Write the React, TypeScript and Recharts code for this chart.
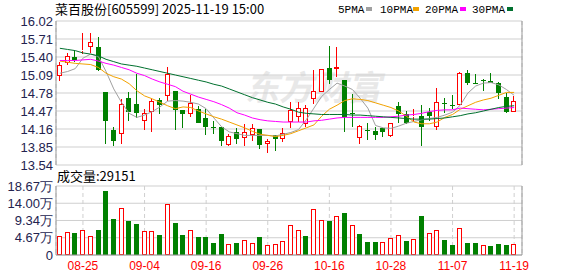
import React from 'react';
import { ComposedChart, Bar, Line, XAxis, YAxis, CartesianGrid } from 'recharts';

const dates = [
  '08-20', '08-21', '08-22', '08-25', '08-26', '08-27', '08-28', '08-29', '09-01', '09-02',
  '09-03', '09-04', '09-05', '09-08', '09-09', '09-10', '09-11', '09-12', '09-15', '09-16',
  '09-17', '09-18', '09-19', '09-22', '09-23', '09-24', '09-25', '09-26', '09-29', '09-30',
  '10-09', '10-10', '10-13', '10-14', '10-15', '10-16', '10-17', '10-20', '10-21', '10-22',
  '10-23', '10-24', '10-27', '10-28', '10-29', '10-30', '10-31', '11-03', '11-04', '11-05',
  '11-06', '11-07', '11-10', '11-11', '11-12', '11-13', '11-14', '11-17', '11-18', '11-19',
];
const opens = [
  15.08, 15.30, 15.40, 15.50, 15.57, 15.57, 14.80, 14.14, 14.08, 14.69,
  14.59, 14.30, 14.45, 14.66, 14.72, 14.82, 14.48, 14.41, 14.51, 14.35,
  14.19, 14.19, 13.88, 14.11, 14.01, 14.05, 14.16, 13.91, 14.05, 13.99,
  14.28, 14.36, 14.25, 14.68, 14.80, 15.21, 15.20, 15.00, 14.43, 14.01,
  14.15, 14.12, 14.18, 14.04, 14.55, 14.42, 14.37, 14.38, 14.46, 14.19,
  14.61, 14.57, 14.58, 15.12, 14.95, 15.01, 14.98, 14.96, 14.71, 14.46,
];
const highs = [
  15.32, 15.47, 15.51, 15.81, 15.81, 15.74, 14.80, 14.19, 14.67, 14.80,
  15.11, 14.50, 14.67, 14.69, 15.22, 14.82, 14.48, 14.74, 14.55, 14.51,
  14.29, 14.20, 14.07, 14.18, 14.24, 14.24, 14.16, 13.99, 14.06, 14.18,
  14.63, 14.63, 14.58, 15.18, 15.20, 15.59, 15.57, 15.00, 14.76, 14.23,
  14.26, 14.20, 14.18, 14.27, 14.63, 14.47, 14.51, 14.57, 14.53, 14.86,
  14.69, 14.74, 15.15, 15.17, 15.11, 15.02, 15.12, 14.97, 14.78, 14.72,
];
const lows = [
  14.98, 15.27, 15.31, 15.45, 15.47, 15.16, 13.91, 13.87, 13.91, 14.29,
  14.35, 14.15, 14.10, 14.41, 14.64, 14.15, 14.18, 14.36, 14.26, 14.05,
  14.08, 13.86, 13.87, 13.90, 13.87, 13.96, 13.82, 13.75, 13.78, 13.94,
  14.17, 14.28, 14.19, 14.59, 14.79, 14.94, 15.06, 14.10, 14.20, 13.91,
  13.97, 13.97, 14.02, 14.02, 14.26, 14.25, 14.30, 13.87, 14.29, 14.14,
  14.43, 14.51, 14.57, 14.92, 14.93, 14.81, 14.95, 14.68, 14.44, 14.46,
];
const closes = [
  15.26, 15.41, 15.34, 15.52, 15.66, 15.17, 14.29, 13.96, 14.59, 14.45,
  14.43, 14.44, 14.64, 14.58, 15.10, 14.48, 14.41, 14.60, 14.27, 14.20,
  14.17, 13.95, 14.04, 13.99, 14.11, 14.18, 13.89, 13.95, 13.98, 14.09,
  14.49, 14.53, 14.52, 14.81, 15.20, 15.01, 15.23, 14.36, 14.41, 14.22,
  14.14, 14.05, 14.11, 14.27, 14.42, 14.27, 14.39, 14.19, 14.39, 14.63,
  14.60, 14.56, 15.12, 14.96, 14.94, 14.98, 14.96, 14.78, 14.45, 14.64,
];
// 成交量，单位：万
const volumes = [
  5.05, 6.13, 5.95, 6.67, 5.05, 6.76, 17.32, 9.74, 12.63, 9.20,
  8.39, 6.40, 6.40, 5.41, 13.80, 8.66, 5.41, 6.76, 4.87, 4.87,
  3.25, 5.68, 2.89, 3.25, 4.06, 3.25, 4.87, 2.71, 2.89, 3.79,
  8.03, 6.76, 5.14, 12.36, 9.47, 9.20, 10.46, 11.36, 8.03, 5.68,
  3.52, 3.52, 3.52, 4.60, 5.41, 3.79, 4.33, 10.55, 5.95, 6.76,
  4.15, 2.71, 7.31, 3.25, 3.25, 2.62, 2.44, 2.98, 2.71, 2.9151,
];
const ma5 = [
  15.12, 15.15, 15.20, 15.38, 15.45, 15.41, 15.15, 14.85, 14.62, 14.43,
  14.36, 14.40, 14.46, 14.54, 14.64, 14.65, 14.64, 14.62, 14.59, 14.51,
  14.35, 14.20, 14.11, 14.08, 14.05, 14.05, 14.05, 14.05, 14.04, 14.07,
  14.10, 14.15, 14.32, 14.52, 14.72, 14.84, 14.95, 14.90, 14.84, 14.69,
  14.52, 14.22, 14.18, 14.17, 14.21, 14.26, 14.29, 14.32, 14.34, 14.36,
  14.40, 14.45, 14.57, 14.78, 14.90, 14.95, 14.96, 14.92, 14.84, 14.74,
];
const ma10 = [
  15.33, 15.31, 15.29, 15.28, 15.27, 15.22, 15.12, 15.06, 15.02, 14.94,
  14.82, 14.73, 14.68, 14.62, 14.56, 14.51, 14.54, 14.53, 14.47, 14.42,
  14.37, 14.33, 14.28, 14.23, 14.18, 14.12, 14.07, 14.05, 14.03, 14.05,
  14.08, 14.13, 14.18, 14.23, 14.38, 14.50, 14.57, 14.65, 14.68, 14.67,
  14.65, 14.61, 14.57, 14.53, 14.47, 14.38, 14.28, 14.25, 14.25, 14.28,
  14.36, 14.41, 14.50, 14.56, 14.62, 14.66, 14.69, 14.74, 14.79, 14.79,
];
const ma20 = [
  15.34, 15.34, 15.34, 15.35, 15.36, 15.33, 15.29, 15.26, 15.22, 15.18,
  15.12, 15.08, 15.02, 14.97, 14.93, 14.89, 14.81, 14.76, 14.71, 14.67,
  14.63, 14.58, 14.52, 14.44, 14.40, 14.35, 14.32, 14.30, 14.29, 14.28,
  14.28, 14.28, 14.28, 14.30, 14.31, 14.33, 14.35, 14.36, 14.36, 14.36,
  14.36, 14.36, 14.36, 14.37, 14.38, 14.40, 14.41, 14.43, 14.46, 14.48,
  14.49, 14.49, 14.52, 14.51, 14.50, 14.49, 14.50, 14.51, 14.52, 14.53,
];
const ma30 = [
  15.55, 15.53, 15.51, 15.47, 15.45, 15.42, 15.36, 15.32, 15.28, 15.26,
  15.24, 15.21, 15.18, 15.15, 15.12, 15.09, 15.06, 15.03, 15.00, 14.97,
  14.93, 14.90, 14.85, 14.80, 14.75, 14.70, 14.66, 14.62, 14.59, 14.54,
  14.50, 14.45, 14.43, 14.42, 14.41, 14.41, 14.41, 14.41, 14.40, 14.40,
  14.39, 14.38, 14.37, 14.36, 14.35, 14.34, 14.33, 14.33, 14.33, 14.34,
  14.35, 14.37, 14.39, 14.42, 14.44, 14.47, 14.50, 14.53, 14.55, 14.56,
];
const priceTicks = [13.54, 13.85, 14.16, 14.47, 14.78, 15.09, 15.4, 15.71, 16.02];
const volumeTicks = [0, 4.67, 9.34, 14.0, 18.67];
const dateTicks = ['08-25', '09-04', '09-16', '09-26', '10-16', '10-28', '11-07', '11-19'];
const titleText = '菜百股份[605599] 2025-11-19 15:00';
const maLegend = [
  { name: '5PMA', key: 'ma5', color: '#a0a0a0' },
  { name: '10PMA', key: 'ma10', color: '#f2a200' },
  { name: '20PMA', key: 'ma20', color: '#ff00ff' },
  { name: '30PMA', key: 'ma30', color: '#00702e' },
];

const UP = '#ff0000';
const DOWN = '#008000';
const FRAME = '#999999';
const GRID = '#cfcfcf';
const TICK_COLOR = '#23234f';

const data = dates.map((date, i) => ({
  date,
  o: opens[i],
  h: highs[i],
  l: lows[i],
  c: closes[i],
  range: [lows[i], highs[i]],
  vol: volumes[i],
  volUp: i === 0 ? closes[i] >= opens[i] : closes[i] >= closes[i - 1],
  ma5: ma5[i],
  ma10: ma10[i],
  ma20: ma20[i],
  ma30: ma30[i],
}));

const Candle = (props: any) => {
  const { x, y, width, height, payload } = props;
  if (!payload) return null;
  const { o, h, l, c } = payload;
  const top = Math.min(y, y + height);
  const hh = Math.abs(height);
  const ppu = h === l ? 0 : hh / (h - l);
  const py = (v: number) => top + (h - v) * ppu;
  const left = Math.round(x + width / 2 - 2.5);
  const cx = left + 2.5;
  const up = c >= o;
  const color = up ? UP : DOWN;
  const yH = Math.round(py(h));
  const yL = Math.round(py(l));
  const bTop = Math.round(py(Math.max(o, c)));
  let bBot = Math.round(py(Math.min(o, c)));
  if (bBot - bTop < 1) bBot = bTop + 1;
  if (up) {
    return (
      <g shapeRendering="crispEdges">
        {yH < bTop && <line x1={cx} x2={cx} y1={yH} y2={bTop} stroke={color} />}
        {yL > bBot && <line x1={cx} x2={cx} y1={bBot} y2={yL} stroke={color} />}
        <rect x={left + 0.5} y={bTop + 0.5} width={4} height={Math.max(bBot - bTop - 1, 0)} fill="#ffffff" stroke={color} />
      </g>
    );
  }
  return (
    <g shapeRendering="crispEdges">
      <line x1={cx} x2={cx} y1={yH} y2={Math.max(yL, yH + 1)} stroke={color} />
      <rect x={left} y={bTop} width={5} height={bBot - bTop} fill={color} />
    </g>
  );
};

const VolumeBar = (props: any) => {
  const { x, y, width, height, payload } = props;
  if (!payload) return null;
  const left = Math.round(x + width / 2 - 2.5);
  const top = Math.round(Math.min(y, y + height));
  const bottom = Math.round(Math.max(y, y + height));
  if (payload.volUp) {
    return (
      <rect x={left + 0.5} y={top + 0.5} width={4} height={Math.max(bottom - top - 1, 0)} fill="#ffffff" stroke={UP} shapeRendering="crispEdges" />
    );
  }
  return <rect x={left} y={top} width={5} height={bottom - top} fill={DOWN} shapeRendering="crispEdges" />;
};

const yTickStyle = { fill: TICK_COLOR, fontSize: 13, fontFamily: 'Liberation Sans, Arial, sans-serif' };

export default function App() {
  const lastVol = Math.round(volumes[volumes.length - 1] * 10000);
  return (
    <div style={{ position: 'absolute', left: 0, top: 0, width: 578, height: 276, background: '#ffffff', overflow: 'hidden' }}>
      <svg width={578} height={276} style={{ position: 'absolute', left: 0, top: 0 }}>
        <text x={245} y={100} fontSize={34} fontWeight="bold" fill="#e8e8e8" fontFamily="Noto Sans CJK SC" fontStyle="italic">
          东方财富
        </text>
      </svg>
      <div style={{ position: 'absolute', left: 0, top: 0 }}>
        <ComposedChart width={578} height={178} data={data} margin={{ top: 21, right: 0, bottom: 13, left: 0 }}>
          <CartesianGrid horizontal={true} vertical={false} stroke={GRID} />
          <CartesianGrid horizontal={false} vertical={true} stroke={GRID} strokeDasharray="4 3" />
          <XAxis
            dataKey="date"
            type="category"
            ticks={dateTicks}
            interval={0}
            height={0}
            tick={false}
            tickLine={false}
            axisLine={{ stroke: FRAME }}
            padding={{ left: 0, right: 4 }}
          />
          <XAxis
            xAxisId="top"
            orientation="top"
            dataKey="date"
            type="category"
            height={0}
            tick={false}
            tickLine={false}
            axisLine={{ stroke: FRAME }}
          />
          <YAxis
            type="number"
            domain={[13.54, 16.02]}
            ticks={priceTicks}
            interval={0}
            allowDataOverflow
            width={56}
            tickLine={false}
            tickSize={0}
            tickMargin={3}
            axisLine={{ stroke: FRAME }}
            tick={yTickStyle}
            tickFormatter={(v: number) => v.toFixed(2)}
          />
          <YAxis
            yAxisId="right"
            orientation="right"
            type="number"
            domain={[0, 1]}
            width={56}
            tick={false}
            tickLine={false}
            axisLine={{ stroke: FRAME }}
          />
          <Bar dataKey="range" barSize={5} shape={<Candle />} isAnimationActive={false} />
          {maLegend.map((m) => (
            <Line
              key={m.key}
              dataKey={m.key}
              type="linear"
              stroke={m.color}
              strokeWidth={1}
              dot={false}
              activeDot={false}
              isAnimationActive={false}
            />
          ))}
        </ComposedChart>
      </div>
      <div style={{ position: 'absolute', left: 0, top: 176 }}>
        <ComposedChart width={578} height={100} data={data} margin={{ top: 10, right: 0, bottom: 0, left: 0 }}>
          <CartesianGrid horizontal={true} vertical={false} stroke={GRID} />
          <CartesianGrid horizontal={false} vertical={true} stroke={GRID} strokeDasharray="4 3" />
          <XAxis
            dataKey="date"
            type="category"
            ticks={dateTicks}
            interval={0}
            height={21}
            tickLine={false}
            tickSize={6}
            tickMargin={0}
            axisLine={{ stroke: FRAME }}
            tick={{ fill: '#ff0000', fontSize: 12, fontFamily: 'Liberation Sans, Arial, sans-serif' }}
            padding={{ left: 0, right: 4 }}
          />
          <XAxis
            xAxisId="top"
            orientation="top"
            dataKey="date"
            type="category"
            height={0}
            tick={false}
            tickLine={false}
            axisLine={{ stroke: FRAME }}
          />
          <YAxis
            type="number"
            domain={[0, 18.67]}
            ticks={volumeTicks}
            interval={0}
            allowDataOverflow
            width={56}
            tickLine={false}
            tickSize={0}
            tickMargin={3}
            axisLine={{ stroke: FRAME }}
            tick={yTickStyle}
            tickFormatter={(v: number) => (v === 0 ? '0' : v.toFixed(2) + '万')}
          />
          <YAxis
            yAxisId="right"
            orientation="right"
            type="number"
            domain={[0, 1]}
            width={56}
            tick={false}
            tickLine={false}
            axisLine={{ stroke: FRAME }}
          />
          <Bar dataKey="vol" barSize={5} shape={<VolumeBar />} isAnimationActive={false} />
        </ComposedChart>
      </div>
      <svg width={578} height={276} style={{ position: 'absolute', left: 0, top: 0, pointerEvents: 'none' }}>
        <text x={55} y={14} fontSize={13} fill="#000000" fontFamily="Noto Sans CJK SC">
          {titleText}
        </text>
        {maLegend.map((m, i) => {
          const xs = [338, 380, 425, 472];
          const sq = [366, 413, 460, 507];
          return (
            <g key={m.key}>
              <text x={xs[i]} y={13} fontSize={11} fill="#000000" fontFamily="Liberation Mono, monospace">
                {m.name}
              </text>
              <rect x={sq[i]} y={7} width={6} height={4} fill={m.color} />
            </g>
          );
        })}
        <text x={57} y={181} fontSize={13} fill="#000000" fontFamily="Noto Sans CJK SC">
          {'成交量:' + lastVol}
        </text>
      </svg>
    </div>
  );
}
